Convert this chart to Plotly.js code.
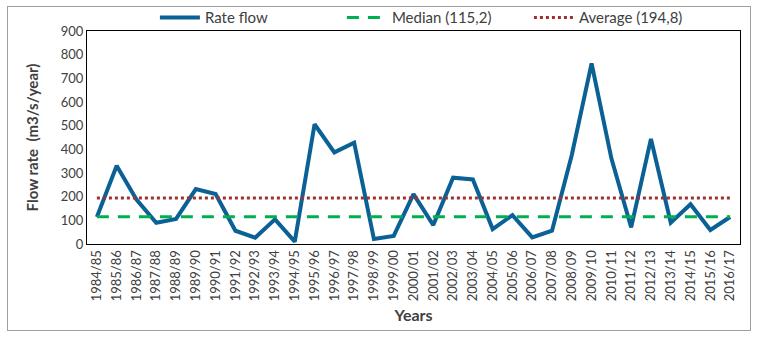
<!DOCTYPE html>
<html><head><meta charset="utf-8">
<script src="https://cdn.plot.ly/plotly-3.0.1.min.js"></script>
<style>body{margin:0;padding:0;background:#fff}#wrap{position:relative;width:763px;height:338px}
#frame{position:absolute;left:7px;top:6px;width:742px;height:323px;border:1px solid #a0a0a0;pointer-events:none}</style>
</head><body>
<div id="wrap"><div id="chart" style="width:763px;height:338px"></div><div id="frame"></div></div>
<script>
const years = ["1984/85","1985/86","1986/87","1987/88","1988/89","1989/90","1990/91","1991/92","1992/93","1993/94","1994/95","1995/96","1996/97","1997/98","1998/99","1999/00","2000/01","2001/02","2002/03","2003/04","2004/05","2005/06","2006/07","2007/08","2008/09","2009/10","2010/11","2011/12","2012/13","2013/14","2014/15","2015/16","2016/17"];
const rateFlow = [114,331,188,90,106,232,211,56,27,104,10,506,387,428,21,34,211,80,280,273,63,122,28,56,376,763,362,70,444,90,168,59,114];
const medianValue = 115.2;
const averageValue = 194.8;
const medianSeries = years.map(() => medianValue);
const averageSeries = years.map(() => averageValue);
const fontFam = "Lato, 'Open Sans', sans-serif";
const traces = [
  {x: years, y: rateFlow, type: 'scatter', mode: 'lines', name: 'Rate flow',
   line: {color: '#0B6196', width: 4}},
  {x: years, y: medianSeries, type: 'scatter', mode: 'lines', name: 'Median (115,2)',
   line: {color: '#00B050', width: 3, dash: '12px,9px'}},
  {x: years, y: averageSeries, type: 'scatter', mode: 'lines', name: 'Average (194,8)',
   line: {color: '#A0302E', width: 3, dash: 'dot'}}
];
const layout = {
  width: 763, height: 338,
  margin: {l: 87, r: 23, t: 31, b: 94, autoexpand: false},
  paper_bgcolor: '#fff', plot_bgcolor: '#fff',
  font: {family: fontFam, color: '#404040', size: 13},
  showlegend: true,
  legend: {orientation: 'h', x: 0.104, xanchor: 'left', y: 1.062, yanchor: 'middle',
           font: {family: fontFam, size: 15, color: '#404040'}, entrywidth: 132, itemwidth: 40,
           bgcolor: 'rgba(0,0,0,0)'},
  xaxis: {type: 'category', tickangle: -90, showline: true, linecolor: '#000', mirror: true,
          linewidth: 1, showgrid: false, ticks: '', tickfont: {size: 13, color: '#404040'},
          range: [-0.5, years.length - 0.5],
          title: {text: '<b>Years</b>', font: {size: 16, color: '#404040'}, standoff: 9}},
  yaxis: {range: [0, 900], dtick: 100, showline: true, linecolor: '#000', mirror: true,
          linewidth: 1, showgrid: false, zeroline: false, ticks: '', tickfont: {size: 13, color: '#404040'},
          title: {text: '<b>Flow rate  (m3/s/year)</b>', font: {size: 15, color: '#404040'}, standoff: 18}}
};
Plotly.newPlot('chart', traces, layout, {displayModeBar: false, staticPlot: true});
</script>
</body></html>
